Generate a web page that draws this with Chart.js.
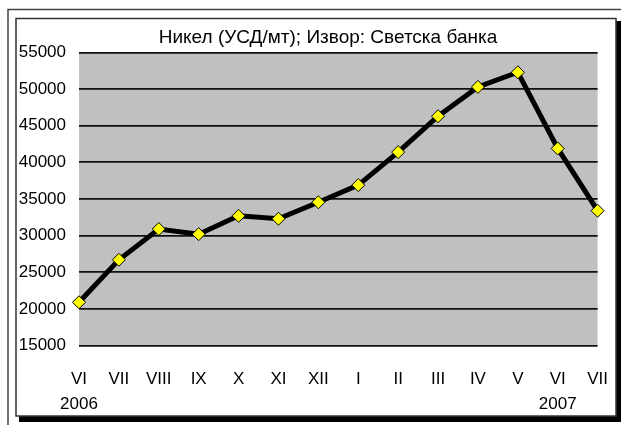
<!DOCTYPE html>
<html>
<head>
<meta charset="utf-8">
<script src="https://cdn.jsdelivr.net/npm/chart.js@4.4.0/dist/chart.umd.min.js"></script>
<style>
  html, body { margin: 0; padding: 0; background: #fff; }
  #wrap { position: relative; width: 621px; height: 425px; }
</style>
</head>
<body>
<div id="wrap"><canvas id="nickelChart" width="621" height="425"></canvas></div>
<script>
// Chart data
const chartTitle = 'Никел (УСД/мт); Извор: Светска банка';
const months = [['VI', '2006'], 'VII', 'VIII', 'IX', 'X', 'XI', 'XII', 'I', 'II', 'III', 'IV', 'V', ['VI', '2007'], 'VII'];
const nickelPrice = [20900, 26700, 30900, 30200, 32700, 32300, 34550, 36900, 41400, 46300, 50300, 52300, 41900, 33400];
const yMin = 15000;
const yMax = 55000;
const yStep = 5000;

const fontFamily = '"Liberation Sans", Arial, sans-serif';

// Frame with shadow + gray plot background
const framePlugin = {
    id: 'frame',
    afterLayout(chart) {
        // centre the title a bit to the right, like the original
        const t = chart.titleBlock;
        if (t) {
            t.left = 57;
            t.width = t.right - t.left;
        }
    },
    beforeDraw(chart) {
        const ctx = chart.ctx;
        const area = chart.chartArea;
        ctx.save();
        ctx.fillStyle = '#fff';
        ctx.fillRect(0, 0, chart.width, chart.height);

        // outer thin line
        ctx.strokeStyle = '#444';
        ctx.lineWidth = 1.5;
        ctx.beginPath();
        ctx.moveTo(8, 425);
        ctx.lineTo(8, 9.5);
        ctx.lineTo(621, 9.5);
        ctx.stroke();

        // shadow
        ctx.fillStyle = '#000';
        ctx.fillRect(616, 21, 6, 401);
        ctx.fillRect(19, 416, 603, 6);

        // inner box
        ctx.strokeStyle = '#333';
        ctx.lineWidth = 1.5;
        ctx.strokeRect(16, 18.5, 600, 397.5);

        // plot area
        ctx.fillStyle = '#c0c0c0';
        ctx.fillRect(area.left, area.top, area.right - area.left, area.bottom - area.top);
        ctx.restore();
    }
};

const ctx = document.getElementById('nickelChart').getContext('2d');
const nickelChart = new Chart(ctx, {
    type: 'line',
    data: {
        labels: months,
        datasets: [{
            data: nickelPrice,
            borderColor: '#000',
            borderWidth: 5,
            tension: 0,
            pointStyle: 'rectRot',
            pointRadius: 6.5,
            pointBackgroundColor: '#ffff00',
            pointBorderColor: '#000',
            pointBorderWidth: 1
        }]
    },
    options: {
        responsive: false,
        animation: false,
        layout: {
            padding: { left: 0, right: 22, top: 0, bottom: 0 }
        },
        plugins: {
            legend: { display: false },
            tooltip: { enabled: false },
            title: {
                display: true,
                text: chartTitle,
                color: '#000',
                font: { family: fontFamily, size: 19, weight: 'normal', lineHeight: 1.2 },
                padding: { top: 26, bottom: 3.7 }
            }
        },
        scales: {
            x: {
                offset: false,
                grid: { display: false },
                border: { display: false },
                ticks: {
                    color: '#000',
                    padding: 13,
                    maxRotation: 0,
                    autoSkip: false,
                    font: { family: fontFamily, size: 17, lineHeight: 1.5 }
                },
                afterFit(scale) { scale.height = 79.5; }
            },
            y: {
                min: yMin,
                max: yMax,
                grid: { color: '#111', lineWidth: 1.8, drawTicks: false },
                border: { display: false },
                ticks: {
                    stepSize: yStep,
                    color: '#000',
                    padding: 13,
                    font: { family: fontFamily, size: 17 },
                    callback: (value) => String(value)
                },
                afterFit(scale) { scale.width = 79; }
            }
        }
    },
    plugins: [framePlugin]
});
</script>
</body>
</html>
